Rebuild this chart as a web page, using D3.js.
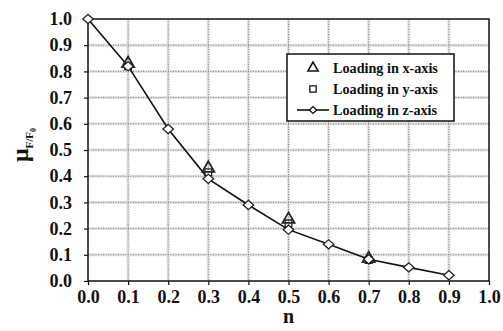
<!DOCTYPE html>
<meta charset="utf-8">
<body style="margin:0;background:#fff">
<script src="https://d3js.org/d3.v7.min.js"></script>
<script>

// values
var nValues = [0.0, 0.1, 0.2, 0.3, 0.4, 0.5, 0.6, 0.7, 0.8, 0.9];
var zAxis = [1.0, 0.82, 0.58, 0.39, 0.29, 0.196, 0.14, 0.083, 0.052, 0.022];
var nSub = [0.1, 0.3, 0.5, 0.7];
var xAxisLoad = [0.83, 0.43, 0.235, 0.085];
var yAxisLoad = [0.82, 0.415, 0.22, 0.08];
var tickVals = [0, 0.1, 0.2, 0.3, 0.4, 0.5, 0.6, 0.7, 0.8, 0.9, 1.0];
var legendLabels = ["Loading in x-axis", "Loading in y-axis", "Loading in z-axis"];

var FONT = "'Liberation Serif'";

var margin = {top: 19, right: 14, bottom: 50, left: 88},
    width = 503 - margin.left - margin.right,
    height = 331 - margin.top - margin.bottom;

var svg = d3.select("body").append("svg")
    .attr("width", 503)
    .attr("height", 331)
  .append("g")
    .attr("transform", "translate(" + margin.left + "," + margin.top + ")");

var x = d3.scaleLinear().domain([0, 1]).range([0, width]);
var y = d3.scaleLinear().domain([0, 1]).range([height, 0]);

// grid: soft wide band under a dotted line, like the scan
var inner = tickVals.slice(1, -1);
function gridLines(w, col, dash) {
  var g = svg.append("g");
  g.selectAll("line.v").data(inner).enter().append("line").attr("class", "v")
      .attr("x1", d => x(d)).attr("x2", d => x(d)).attr("y1", 0).attr("y2", height);
  g.selectAll("line.h").data(inner).enter().append("line").attr("class", "h")
      .attr("y1", d => y(d)).attr("y2", d => y(d)).attr("x1", 0).attr("x2", width);
  g.selectAll("line").attr("stroke", col).attr("stroke-width", w)
      .attr("stroke-dasharray", dash);
}
gridLines(3, "#e3e3e3", null);
gridLines(0.8, "#666", "1,1.5");

// frame
svg.append("rect").attr("width", width).attr("height", height)
    .attr("fill", "none").attr("stroke", "#111").attr("stroke-width", 1.5);

// axes
var xAx = svg.append("g")
    .attr("transform", "translate(0," + height + ")")
    .call(d3.axisBottom(x).tickValues(tickVals).tickFormat(d3.format(".1f")).tickSize(4).tickPadding(5));
var yAx = svg.append("g")
    .call(d3.axisLeft(y).tickValues(tickVals).tickFormat(d3.format(".1f")).tickSize(4).tickPadding(12));
[xAx, yAx].forEach(function(a) {
  a.attr("font-family", FONT).attr("font-size", 18).attr("font-weight", "bold");
  a.select(".domain").remove();
  a.selectAll(".tick line").attr("stroke", "#111").attr("stroke-width", 1.2);
  a.selectAll(".tick text").attr("fill", "#111");
});

// axis titles
svg.append("text")
    .attr("x", width / 2).attr("y", height + 42)
    .attr("text-anchor", "middle")
    .attr("font-family", FONT).attr("font-weight", "bold").attr("font-size", 20).attr("fill", "#111")
    .text("n");

var yl = svg.append("text")
    .attr("transform", "translate(-60," + (height / 2 - 5) + ") rotate(-90)")
    .attr("text-anchor", "middle")
    .attr("font-family", FONT).attr("font-weight", "bold").attr("fill", "#111");
yl.append("tspan").attr("font-size", 24).text("\u03bc");
yl.append("tspan").attr("dy", 5).attr("font-size", 11).text("F/F");
yl.append("tspan").attr("dy", 3).attr("font-size", 8).text("0");

// z-axis line
var line = d3.line().x((d, i) => x(nValues[i])).y(d => y(d));
svg.append("path").datum(zAxis).attr("d", line)
    .attr("fill", "none").attr("stroke", "#111").attr("stroke-width", 1.6);

var tri = d3.symbol().type(d3.symbolTriangle).size(65);
var sq = d3.symbol().type(d3.symbolSquare).size(45);
var dia = d3.symbol().type(d3.symbolSquare).size(42);

svg.append("g").selectAll("path").data(yAxisLoad).enter().append("path")
    .attr("d", sq)
    .attr("transform", (d, i) => "translate(" + x(nSub[i]) + "," + y(d) + ")")
    .attr("fill", "none").attr("stroke", "#222").attr("stroke-width", 1.3);
svg.append("g").selectAll("path").data(xAxisLoad).enter().append("path")
    .attr("d", tri)
    .attr("transform", (d, i) => "translate(" + x(nSub[i]) + "," + y(d) + ")")
    .attr("fill", "none").attr("stroke", "#222").attr("stroke-width", 1.7);
svg.append("g").selectAll("path").data(zAxis).enter().append("path")
    .attr("d", dia)
    .attr("transform", (d, i) => "translate(" + x(nValues[i]) + "," + y(d) + ") scale(1.15,1) rotate(45)")
    .attr("fill", "#fff").attr("stroke", "#222").attr("stroke-width", 1.2);

// legend
var lg = svg.append("g").attr("transform", "translate(199,35)");
lg.append("rect").attr("width", 167).attr("height", 67)
    .attr("fill", "#fff").attr("stroke", "#111").attr("stroke-width", 1.5);
var ly = [14, 35, 56];
lg.selectAll("text").data(legendLabels).enter().append("text")
    .attr("x", 46).attr("y", (d, i) => ly[i] + 5)
    .attr("font-family", FONT).attr("font-weight", "bold").attr("font-size", 14.2).attr("fill", "#111")
    .text(d => d);
lg.append("path").attr("d", d3.symbol().type(d3.symbolTriangle).size(45))
    .attr("transform", "translate(26," + ly[0] + ")")
    .attr("fill", "none").attr("stroke", "#111").attr("stroke-width", 1.6);
lg.append("path").attr("d", d3.symbol().type(d3.symbolSquare).size(40))
    .attr("transform", "translate(26," + ly[1] + ")")
    .attr("fill", "none").attr("stroke", "#111").attr("stroke-width", 1.3);
lg.append("line").attr("x1", 10).attr("x2", 42).attr("y1", ly[2]).attr("y2", ly[2])
    .attr("stroke", "#111").attr("stroke-width", 1.6);
lg.append("path").attr("d", d3.symbol().type(d3.symbolSquare).size(22))
    .attr("transform", "translate(26," + ly[2] + ") scale(1.1,1) rotate(45)")
    .attr("fill", "#fff").attr("stroke", "#111").attr("stroke-width", 1.2);

</script>
</body>
